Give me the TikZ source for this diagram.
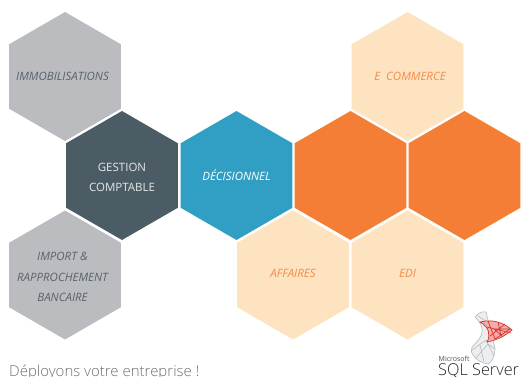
\documentclass[tikz,border=0pt]{standalone}
\usepackage{fontspec}
\setmainfont{Open Sans}
\newfontfamily\lightfont{Open Sans Light}
\usetikzlibrary{shapes.geometric}
\definecolor{hgrey}{HTML}{BBBCC0}
\definecolor{hdark}{HTML}{4B5C65}
\definecolor{hblue}{HTML}{319FC3}
\definecolor{horange}{HTML}{F57E37}
\definecolor{hpale}{HTML}{FDE3C0}
\definecolor{tgrey}{HTML}{56636C}
\definecolor{torange}{HTML}{F58A4B}
\definecolor{tfoot}{HTML}{6A6F73}
\definecolor{lred}{HTML}{D9342B}
\definecolor{lgrey}{HTML}{B4BBC0}
\tikzset{
  hexa/.style={regular polygon,regular polygon sides=6,shape border rotate=90,minimum size=129pt,inner sep=0pt,outer sep=0pt,draw=none},
  lab/.style={align=center,inner sep=0pt,font=\fontsize{11.5}{20}\selectfont},
  ilab/.style={align=center,inner sep=0pt,font=\fontsize{11.5}{20.5}\selectfont\itshape},
  greyhex/.style={hexa,fill=hgrey},
  darkhex/.style={hexa,fill=hdark},
  bluehex/.style={hexa,fill=hblue},
  orangehex/.style={hexa,fill=horange},
  palehex/.style={hexa,fill=hpale},
  greylab/.style={ilab,text=tgrey},
  darklab/.style={lab,text=white!85!hdark},
  bluelab/.style={ilab,text=white},
  palelab/.style={ilab,text=torange},
  logored/.style={draw=lred,line width=0.7pt},
  logogrey/.style={draw=lgrey,line width=0.6pt}
}
\begin{document}
\begin{tikzpicture}[x=1pt,y=-1pt]
\useasboundingbox (0,0) rectangle (521,376);
\clip (0,0) rectangle (521,376);
\node[greyhex,label={[greylab,xshift=-2.5pt]center:IMMOBILISATIONS}] (immo) at (65,76.5) {};
\node[darkhex,label={[darklab,yshift=-1.5pt]center:GESTION\\COMPTABLE}] (gestion) at (122,175.5) {};
\node[bluehex,label={[bluelab]center:DÉCISIONNEL}] (dec) at (236.5,175.5) {};
\node[orangehex] (o1) at (350.5,175.5) {};
\node[orangehex] (o2) at (464.5,175.5) {};
\node[palehex,label={[palelab,xshift=2.5pt]center:E\ \ COMMERCE}] (ecom) at (407.5,76.5) {};
\node[greyhex,label={[greylab,xshift=-2.5pt,yshift=-2pt]center:IMPORT \&\\RAPPROCHEMENT\\BANCAIRE}] (import) at (65,275) {};
\node[palehex,label={[palelab,yshift=1.5pt]center:AFFAIRES}] (aff) at (293,275) {};
\node[palehex,label={[palelab,yshift=1.5pt]center:EDI}] (edi) at (407.5,275) {};
\node[anchor=base west,inner sep=0pt,text=tfoot,font=\fontsize{15}{17}\selectfont\lightfont] (foot) at (9,376) {Déployons votre entreprise !};
% logo: grey lower part
\draw[logogrey,fill=lgrey!25] (475,317) .. controls (478,313) and (482,311) .. (486,312) .. controls (488,320) and (492,336) .. (495,348) .. controls (495,356) and (492,362) .. (488,364) .. controls (481,363) and (475,359) .. (473,355) .. controls (471,352) and (471,350) .. (472,347) .. controls (478,340) and (490,332) .. (475,317) -- cycle;
\draw[logogrey] (472,350) -- (486,340) -- (494,356) (476,358) -- (488,344) -- (495,349) (484,362) -- (480,345) (478,316) -- (487,322);
% logo: red upper part
\filldraw[logored,fill=lred!40] (480,322) .. controls (492,319) and (503,322) .. (512,330) .. controls (505,336) and (497,340) .. (487,342) .. controls (491,335) and (489,327) .. (480,322) -- cycle;
\draw[logored] (488,321) -- (495,339) -- (510,329) -- (494,329) -- (503,337) (498,322) -- (501,336) (487,327) -- (511,333) (490,336) -- (505,324);
\node[anchor=base west,inner sep=0pt,text=black!70,font=\fontsize{7}{8}\selectfont] (ms) at (438.5,361) {Microsoft};
\node[anchor=base west,inner sep=0pt,text=black!85,font=\fontsize{16.3}{18}\selectfont\lightfont] (sql) at (438,375.5) {SQL Server};
\end{tikzpicture}
\end{document}
